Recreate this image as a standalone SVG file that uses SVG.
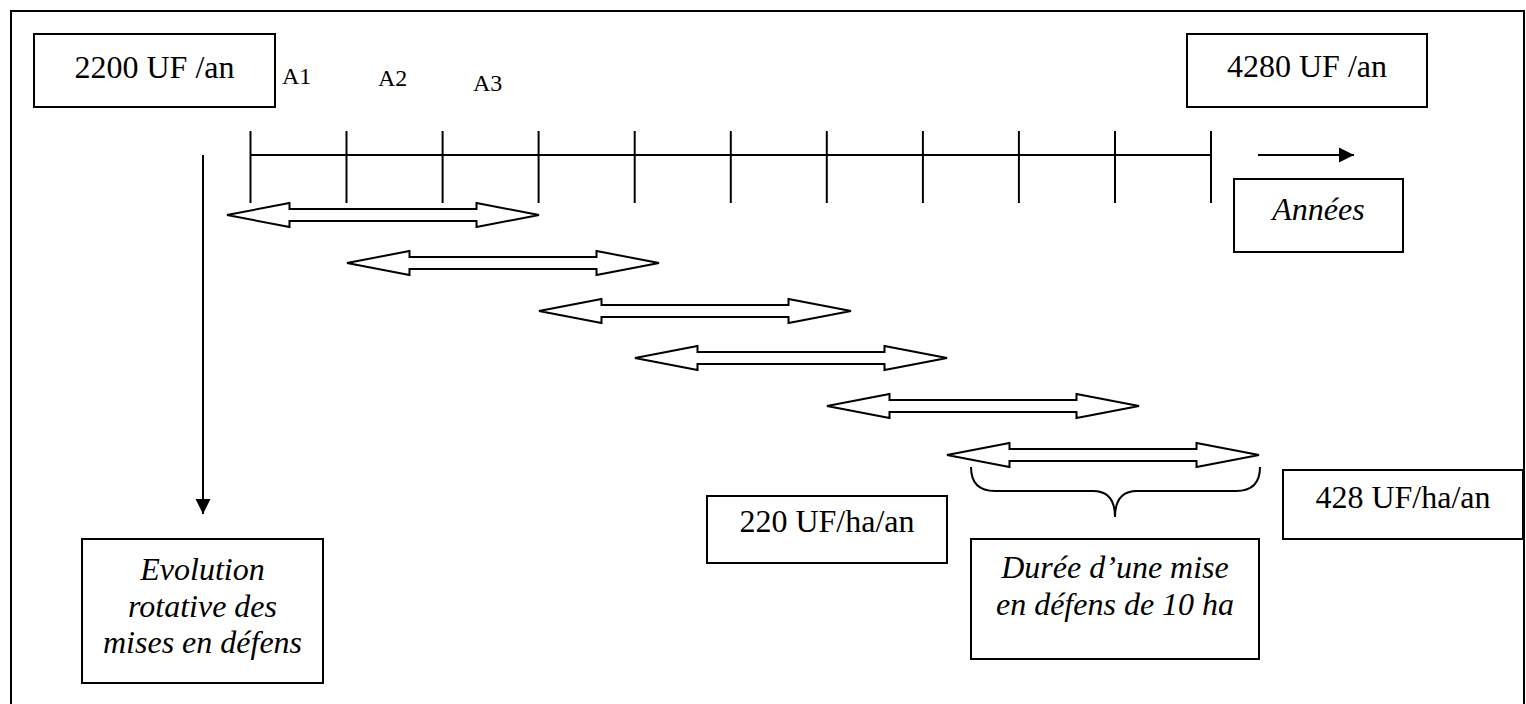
<svg xmlns="http://www.w3.org/2000/svg" width="1526" height="704" viewBox="0 0 1526 704">
  <style>
    .box { fill: #ffffff; stroke: #000000; stroke-width: 2; }
    .frame { fill: none; stroke: #000000; stroke-width: 2; }
    .line { fill: none; stroke: #000000; stroke-width: 2; }
    .dbl { fill: #ffffff; stroke: #000000; stroke-width: 2; stroke-linejoin: miter; }
    .txt { font-family: "Liberation Serif", "Times New Roman", serif; font-size: 32px; fill: #000000; text-anchor: middle; }
    .it { font-style: italic; }
    .lbl { font-family: "Liberation Serif", "Times New Roman", serif; font-size: 24px; fill: #000000; }
  </style>
  <defs>
    <marker id="head" markerWidth="16" markerHeight="16" refX="15" refY="8" orient="auto" markerUnits="userSpaceOnUse">
      <path d="M0,0.5 L15,8 L0,15.5 Z" fill="#000000"/>
    </marker>
    <!-- hollow double-headed arrow, 312 long, drawn from its left tip -->
    <path id="dblArrow" class="dbl" d="M0,0 L62.5,-12 L62.5,-6 L249.5,-6 L249.5,-12 L312,0 L249.5,12 L249.5,6 L62.5,6 L62.5,12 Z"/>
  </defs>

  <rect width="1526" height="704" fill="#ffffff"/>
  <rect class="frame" x="11" y="11" width="1513" height="710"/>

  <g id="connectors">
    <!-- time axis with yearly ticks -->
    <line class="line" x1="250.5" y1="155" x2="1211" y2="155"/>
    <g class="line">
      <line x1="250.5" y1="131" x2="250.5" y2="203"/>
      <line x1="346.5" y1="131" x2="346.5" y2="203"/>
      <line x1="442.6" y1="131" x2="442.6" y2="203"/>
      <line x1="538.6" y1="131" x2="538.6" y2="203"/>
      <line x1="634.7" y1="131" x2="634.7" y2="203"/>
      <line x1="730.8" y1="131" x2="730.8" y2="203"/>
      <line x1="826.8" y1="131" x2="826.8" y2="203"/>
      <line x1="922.9" y1="131" x2="922.9" y2="203"/>
      <line x1="1018.9" y1="131" x2="1018.9" y2="203"/>
      <line x1="1115" y1="131" x2="1115" y2="203"/>
      <line x1="1211" y1="131" x2="1211" y2="203"/>
    </g>
    <!-- direction of time -->
    <line class="line" x1="1258" y1="155" x2="1354" y2="155" marker-end="url(#head)"/>
    <!-- rotation downwards -->
    <line class="line" x1="203" y1="155" x2="203" y2="514" marker-end="url(#head)"/>

    <!-- successive exclosure periods -->
    <use href="#dblArrow" x="227" y="215"/>
    <use href="#dblArrow" x="347" y="263"/>
    <use href="#dblArrow" x="539" y="311"/>
    <use href="#dblArrow" x="635" y="358"/>
    <use href="#dblArrow" x="827" y="406"/>
    <use href="#dblArrow" x="947" y="455"/>

    <!-- brace under the last period -->
    <path class="line" d="M971,467 Q971,491 995,491 L1093,491 Q1115,491 1115,517 Q1115,491 1137,491 L1236,491 Q1260,491 1260,467"/>
  </g>

  <g id="start-total">
    <rect class="box" x="34" y="34" width="241" height="73"/>
    <text class="txt" x="154.5" y="78">2200 UF /an</text>
  </g>

  <g id="end-total">
    <rect class="box" x="1187" y="34" width="240" height="73"/>
    <text class="txt" x="1307" y="77">4280 UF /an</text>
  </g>

  <g id="year-labels">
    <text class="lbl" x="282" y="84">A1</text>
    <text class="lbl" x="378" y="86">A2</text>
    <text class="lbl" x="473" y="91">A3</text>
  </g>

  <g id="years">
    <rect class="box" x="1234" y="179" width="169" height="73"/>
    <text class="txt it" x="1318.5" y="220">Années</text>
  </g>

  <g id="rotation">
    <rect class="box" x="82" y="539" width="241" height="144"/>
    <text class="txt it" x="202.5" y="580">Evolution</text>
    <text class="txt it" x="202.5" y="617">rotative des</text>
    <text class="txt it" x="202.5" y="653">mises en défens</text>
  </g>

  <g id="start-yield">
    <rect class="box" x="707" y="496" width="240" height="67"/>
    <text class="txt" x="827" y="532">220 UF/ha/an</text>
  </g>

  <g id="duration">
    <rect class="box" x="971" y="539" width="288" height="120"/>
    <text class="txt it" x="1115" y="578">Durée d’une mise</text>
    <text class="txt it" x="1115" y="615">en défens de 10 ha</text>
  </g>

  <g id="end-yield">
    <rect class="box" x="1283" y="470" width="240" height="69"/>
    <text class="txt" x="1403" y="508">428 UF/ha/an</text>
  </g>
</svg>
